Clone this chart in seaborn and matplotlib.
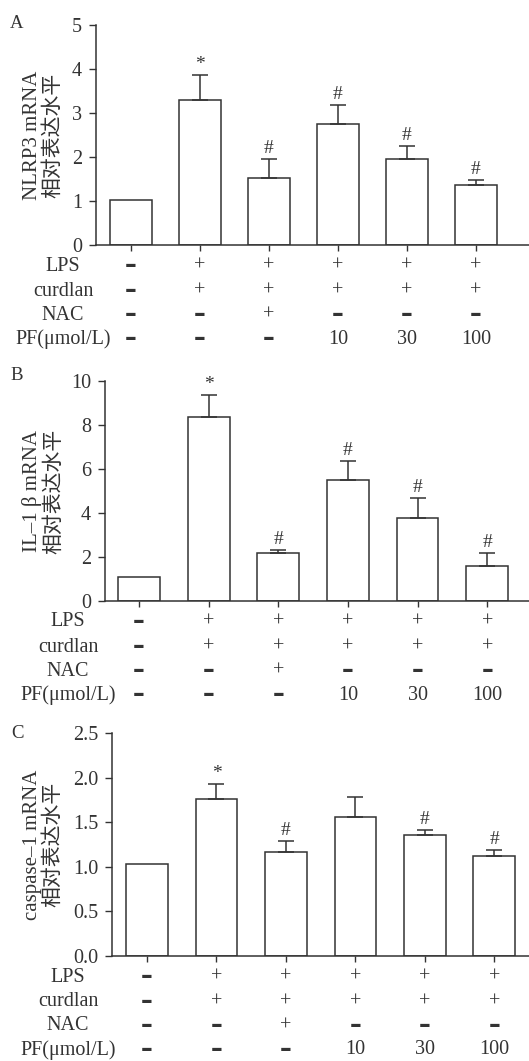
import numpy as np
import pandas as pd
import matplotlib
matplotlib.use('Agg')
import matplotlib.pyplot as plt
import seaborn as sns

groups = ['g1', 'g2', 'g3', 'g4', 'g5', 'g6']

nlrp3_mean = [1.03, 3.29, 1.53, 2.75, 1.95, 1.37]
nlrp3_err = [0.0, 0.58, 0.42, 0.44, 0.30, 0.10]
nlrp3_marks = ['', '*', '#', '#', '#', '#']

il1b_mean = [1.08, 8.37, 2.19, 5.50, 3.79, 1.57]
il1b_err = [0.0, 0.98, 0.13, 0.87, 0.90, 0.59]
il1b_marks = ['', '*', '#', '#', '#', '#']

casp1_mean = [1.03, 1.76, 1.17, 1.56, 1.355, 1.123]
casp1_err = [0.0, 0.17, 0.12, 0.22, 0.06, 0.064]
casp1_marks = ['', '*', '#', '', '#', '#']

row_names = ['LPS', 'curdlan', 'NAC', 'PF(\u03bcmol/L)']
lps_row = ['\u2013', '+', '+', '+', '+', '+']
curdlan_row = ['\u2013', '+', '+', '+', '+', '+']
nac_row = ['\u2013', '\u2013', '+', '\u2013', '\u2013', '\u2013']
pf_row = ['\u2013', '\u2013', '\u2013', '10', '30', '100']

grey = '#333333'

sns.set_theme(style='ticks')
plt.rcParams['font.family'] = ['Liberation Serif', 'Noto Sans CJK SC', 'DejaVu Sans']
plt.rcParams['text.color'] = grey
plt.rcParams['axes.edgecolor'] = grey
plt.rcParams['xtick.color'] = grey
plt.rcParams['ytick.color'] = grey

W, H = 529, 1061
fig = plt.figure(figsize=(W / 100, H / 100), dpi=100)


def draw_panel(rect, means, errs, marks, ylim, yticks, ylabel, letter, letter_y, xlim, label_x):
    ax = fig.add_axes(rect)
    df = pd.DataFrame({'group': groups, 'value': means})
    sns.barplot(data=df, x='group', y='value', color='white', edgecolor=grey,
                linewidth=1.1, width=0.6, errorbar=None, saturation=1, ax=ax)
    pos = np.arange(len(groups))
    m = np.array(means)
    e = np.array(errs)
    keep = e > 0
    ax.errorbar(pos[keep], m[keep], yerr=[np.zeros(keep.sum()), e[keep]], fmt='none',
                ecolor=grey, elinewidth=1.1, capsize=5.5, capthick=1.1)
    for x, top, mk in zip(pos, m + e, marks):
        if mk:
            ax.annotate(mk, xy=(x, top), xytext=(0, 2), textcoords='offset pixels',
                        ha='center', va='bottom', fontsize=14, color=grey)
    ax.set_ylim(*ylim)
    ax.set_yticks(yticks)
    ax.set_yticklabels([str(t) for t in yticks], fontsize=14.5)
    ax.set_xlim(*xlim)
    ax.set_xticks(pos)
    ax.set_xticklabels([])
    ax.set_xlabel('')
    ax.set_ylabel('')
    ax.tick_params(axis='y', length=5, width=1, pad=5)
    ax.tick_params(axis='x', length=4, width=1)
    sns.despine(ax=ax)
    for s in ['left', 'bottom']:
        ax.spines[s].set_linewidth(1.1)
    # condition table under the bars
    offsets = [21, 46, 70, 94]
    rows = [lps_row, curdlan_row, nac_row, pf_row]
    for name, row, off in zip(row_names, rows, offsets):
        for x, txt in zip(pos, row):
            if txt == '\u2013':
                ax.annotate(txt, xy=(x, 0), xycoords=('data', 'axes fraction'),
                            xytext=(0, -off + 1), textcoords='offset pixels',
                            ha='center', va='center', fontsize=17, color=grey,
                            family='DejaVu Sans', fontweight='semibold')
            else:
                ax.annotate(txt, xy=(x, 0), xycoords=('data', 'axes fraction'),
                            xytext=(0, -off), textcoords='offset pixels',
                            ha='center', va='center', fontsize=14.5, color=grey)
        ax.annotate(name, xy=(label_x / W, 0), xycoords=('figure fraction', 'axes fraction'),
                    xytext=(0, -off), textcoords='offset pixels',
                    ha='center', va='center', fontsize=14.5, color=grey)
    bbox = ax.get_position()
    fig.text(43 / W, bbox.y0 + bbox.height / 2, ylabel, rotation=90, ha='center',
             va='center', multialignment='center', fontsize=15, color=grey,
             linespacing=1.15)
    fig.text(17 / W, 1 - letter_y / H, letter, ha='center', va='center', fontsize=13.5, color=grey)
    return ax


draw_panel([96 / W, 1 - 245 / H, 1 - 96 / W, 220 / H], nlrp3_mean, nlrp3_err, nlrp3_marks,
           (0, 5), [0, 1, 2, 3, 4, 5], 'NLRP3 mRNA\n相对表达水平', 'A', 24,
           (-0.507, 5.77), 63)
draw_panel([105 / W, 1 - 601 / H, 1 - 105 / W, 220 / H], il1b_mean, il1b_err, il1b_marks,
           (0, 10), [0, 2, 4, 6, 8, 10], 'IL\u20131 \u03b2 mRNA\n相对表达水平', 'B', 376,
           (-0.49, 5.6), 68)
draw_panel([112 / W, 1 - 956 / H, 1 - 112 / W, 223 / H], casp1_mean, casp1_err, casp1_marks,
           (0, 2.5), [0.0, 0.5, 1.0, 1.5, 2.0, 2.5], 'caspase\u20131 mRNA\n相对表达水平', 'C', 733,
           (-0.504, 5.5), 68)

fig.savefig('out.png', dpi=100)
